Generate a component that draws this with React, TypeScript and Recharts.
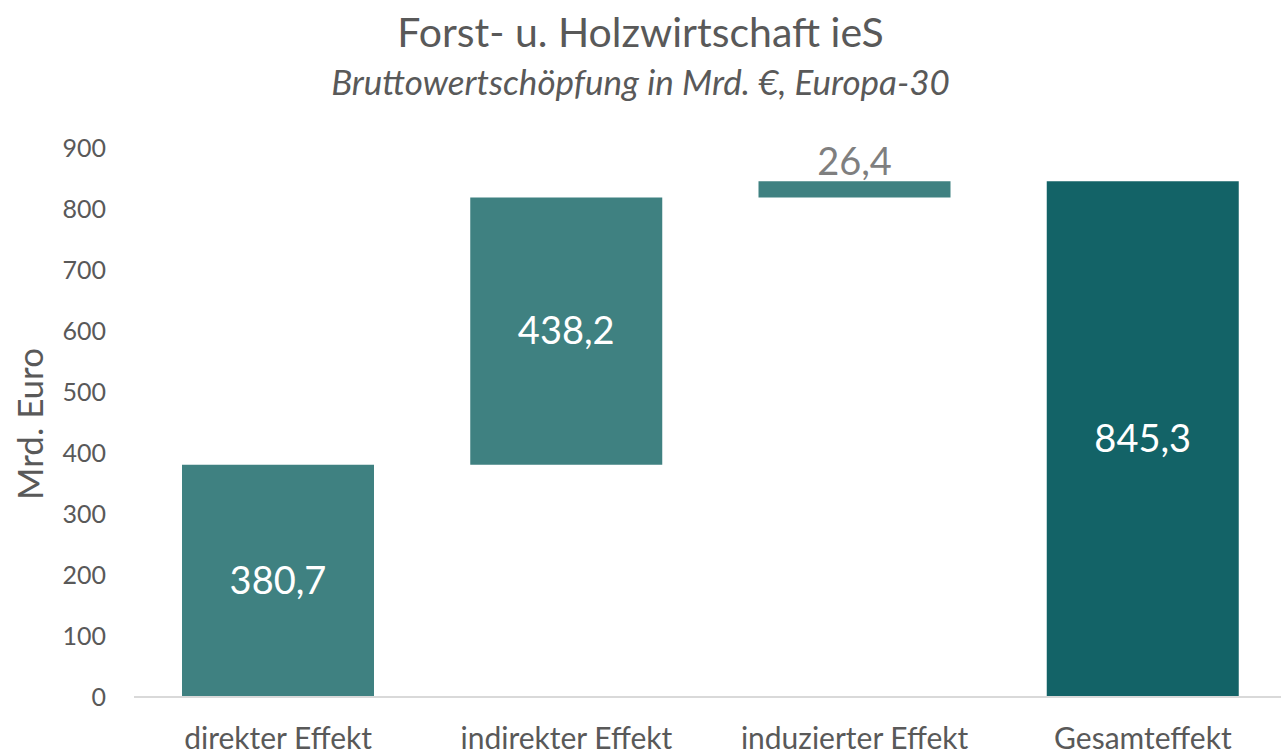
import { BarChart, Bar, XAxis, YAxis, Cell, LabelList } from 'recharts';

const categories = ['direkter Effekt', 'indirekter Effekt', 'induzierter Effekt', 'Gesamteffekt'];
const baseValues = [0, 380.7, 818.9, 0];
const effectValues = [380.7, 438.2, 26.4, 845.3];
const yTicks = [0, 100, 200, 300, 400, 500, 600, 700, 800, 900];

const FONT = 'Lato, "Open Sans", sans-serif';
const TEAL = '#3f8181';
const DARK_TEAL = '#136367';
const GREY = '#595959';

const data = categories.map((name, i) => ({
  name,
  base: baseValues[i],
  value: effectValues[i],
}));

const fmt = (v: number) => v.toFixed(1).replace('.', ',');

const renderValueLabel = (props: any) => {
  const { x, y, width, height, value } = props;
  const cx = x + width / 2;
  // small bars get their label above, in grey
  if (height < 50) {
    return (
      <text x={cx} y={y - 6} textAnchor="middle" fill="#7f7f7f" fontSize={38} fontFamily={FONT}>
        {fmt(value)}
      </text>
    );
  }
  return (
    <text x={cx} y={y + height / 2} dy="0.35em" textAnchor="middle" fill="#ffffff" fontSize={38} fontFamily={FONT}>
      {fmt(value)}
    </text>
  );
};

export default function App() {
  return (
    <div style={{ position: 'absolute', left: 0, top: 0, width: 1281, height: 756, fontFamily: FONT, background: '#fff', overflow: 'hidden' }}>
      <div style={{ position: 'absolute', top: 7, width: 1281, textAlign: 'center', fontSize: 41, color: GREY, lineHeight: '50px' }}>
        Forst- u. Holzwirtschaft ieS
      </div>
      <div style={{ position: 'absolute', top: 59, width: 1281, textAlign: 'center', fontSize: 35, fontStyle: 'italic', color: GREY, lineHeight: '44px' }}>
        Bruttowertschöpfung in Mrd. €, Europa-30
      </div>
      <div style={{ position: 'absolute', left: 0, top: 0 }}>
        <BarChart width={1281} height={756} data={data} margin={{ top: 148, right: -6, bottom: 0, left: 0 }}>
          <XAxis
            dataKey="name"
            height={59}
            tickLine={false}
            tickSize={0}
            tickMargin={31}
            axisLine={{ stroke: '#d9d9d9', strokeWidth: 2 }}
            tick={{ fill: GREY, fontSize: 30, fontFamily: FONT }}
            interval={0}
          />
          <YAxis
            width={134}
            domain={[0, 900]}
            ticks={yTicks}
            axisLine={false}
            tickLine={false}
            tickSize={0}
            tickMargin={28}
            tick={{ fill: GREY, fontSize: 25, fontFamily: FONT }}
            label={{
              content: () => (
                <text x={43} y={424} transform="rotate(-90 43 424)" textAnchor="middle" fill={GREY} fontSize={35} fontFamily={FONT}>
                  Mrd. Euro
                </text>
              ),
            }}
          />
          <Bar dataKey="base" stackId="a" fill="transparent" barSize={192} isAnimationActive={false} />
          <Bar dataKey="value" stackId="a" barSize={192} isAnimationActive={false}>
            {data.map((d, i) => (
              <Cell key={d.name} fill={i === data.length - 1 ? DARK_TEAL : TEAL} />
            ))}
            <LabelList dataKey="value" content={renderValueLabel} />
          </Bar>
        </BarChart>
      </div>
    </div>
  );
}
